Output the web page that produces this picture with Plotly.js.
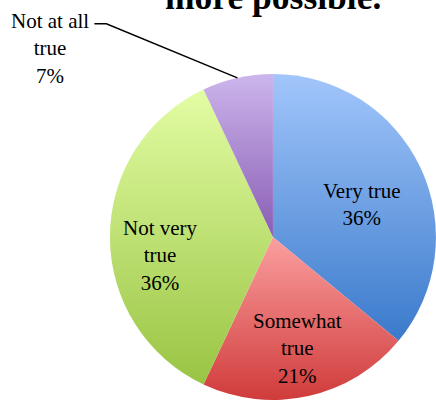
<!DOCTYPE html>
<html>
<head>
<meta charset="utf-8">
<script src="https://cdn.plot.ly/plotly-3.0.1.min.js"></script>
<style>
  html, body { margin: 0; padding: 0; background: #fff; }
  #chart { width: 436px; height: 404px; }
</style>
</head>
<body>
<div id="chart"></div>
<script>
const categories = ["Very true", "Somewhat true", "Not very true", "Not at all true"];
const displayLabels = ["Very true", "Somewhat<br>true", "Not very<br>true", "Not at all<br>true"];
const values = [36, 21, 36, 7];
const titleText = "more possible.";

const colorsTop = ["#a2c6fb", "#fb9f9f", "#e3fda4", "#ccb5ec"];
const colorsMid = ["#6d9fe4", "#e86f6f", "#c0e171", "#ab8ad2"];
const colorsBottom = ["#3a7acb", "#d03b3b", "#99c443", "#895db4"];

// label placement (fraction of radius, angular shift in degrees)
const labelRadius = [0.58, 0.70, 0.70];
const labelShift = [5, 0, -9.5];

const W = 436, H = 404;
const domX = [0.252, 1.0];
const domY = [0.01, 0.817];
const serif = "Liberation Serif, Times New Roman, serif";
const fontSize = 21;

const total = values.reduce((a, b) => a + b, 0);
const cx = (domX[0] + domX[1]) / 2, cy = (domY[0] + domY[1]) / 2;
const rPx = Math.min((domX[1] - domX[0]) * W, (domY[1] - domY[0]) * H) / 2;
const pct = v => Math.round(v / total * 100) + "%";

function polar(frac, rFrac, shiftDeg) {
  const th = frac * 2 * Math.PI + (shiftDeg || 0) * Math.PI / 180;
  return [cx + rFrac * (rPx / W) * Math.sin(th), cy + rFrac * (rPx / H) * Math.cos(th)];
}

const annotations = [
  {
    xref: "paper", yref: "paper", x: 0.627, y: 1, xanchor: "center", yanchor: "middle", yshift: 3.5,
    text: "<b>" + titleText + "</b>", showarrow: false,
    font: { family: serif, size: 35.5, color: "#000" }
  }
];

let cum = 0;
const mids = values.map(v => { const m = (cum + v / 2) / total; cum += v; return m; });

for (let i = 0; i < 3; i++) {
  const [x, y] = polar(mids[i], labelRadius[i], labelShift[i]);
  annotations.push({
    xref: "paper", yref: "paper", x: x, y: y, xanchor: "center", yanchor: "middle",
    text: displayLabels[i] + "<br>" + pct(values[i]), showarrow: false, align: "center",
    font: { family: serif, size: fontSize, color: "#000" }
  });
}

// outside label for the small slice, with leader line
const [ex, ey] = polar(mids[3], 1.0, 0);
const elbowX = ex - 131 / W, elbowY = ey + 54 / H;
const endX = elbowX - 12 / W, endY = elbowY;
annotations.push({
  xref: "paper", yref: "paper", x: 50 / W, y: 1 - 48 / H, xanchor: "center", yanchor: "middle",
  text: displayLabels[3] + "<br>" + pct(values[3]), showarrow: false, align: "center",
  font: { family: serif, size: fontSize, color: "#000" }
});

const trace = {
  type: "pie",
  labels: categories,
  values: values,
  textinfo: "none",
  sort: false,
  direction: "clockwise",
  rotation: 0,
  domain: { x: domX, y: domY },
  marker: { colors: colorsMid, line: { width: 0 } },
  hoverinfo: "none",
  showlegend: false
};

const layout = {
  width: W, height: H,
  margin: { l: 0, r: 0, t: 0, b: 0 },
  paper_bgcolor: "#fff",
  showlegend: false,
  annotations: annotations,
  shapes: [{
    type: "path", xref: "paper", yref: "paper",
    path: "M " + ex + "," + ey + " L " + elbowX + "," + elbowY + " L " + endX + "," + endY,
    line: { color: "#000", width: 1.5 }
  }]
};

Plotly.newPlot("chart", [trace], layout, { displayModeBar: false, staticPlot: true }).then(gd => {
  const svg = gd.querySelector("svg.main-svg");
  const ns = "http://www.w3.org/2000/svg";
  let defs = svg.querySelector("defs");
  if (!defs) { defs = document.createElementNS(ns, "defs"); svg.insertBefore(defs, svg.firstChild); }
  colorsTop.forEach((c, i) => {
    const g = document.createElementNS(ns, "linearGradient");
    g.setAttribute("id", "sliceGrad" + i);
    g.setAttribute("x1", "0"); g.setAttribute("y1", "0");
    g.setAttribute("x2", "0"); g.setAttribute("y2", "1");
    [[0, c], [1, colorsBottom[i]]].forEach(([o, col]) => {
      const s = document.createElementNS(ns, "stop");
      s.setAttribute("offset", o);
      s.setAttribute("stop-color", col);
      g.appendChild(s);
    });
    defs.appendChild(g);
  });
  gd.querySelectorAll(".slice").forEach((sl, i) => {
    const p = sl.querySelector("path.surface");
    if (p) p.style.fill = "url(#sliceGrad" + i + ")";
  });
});
</script>
</body>
</html>
